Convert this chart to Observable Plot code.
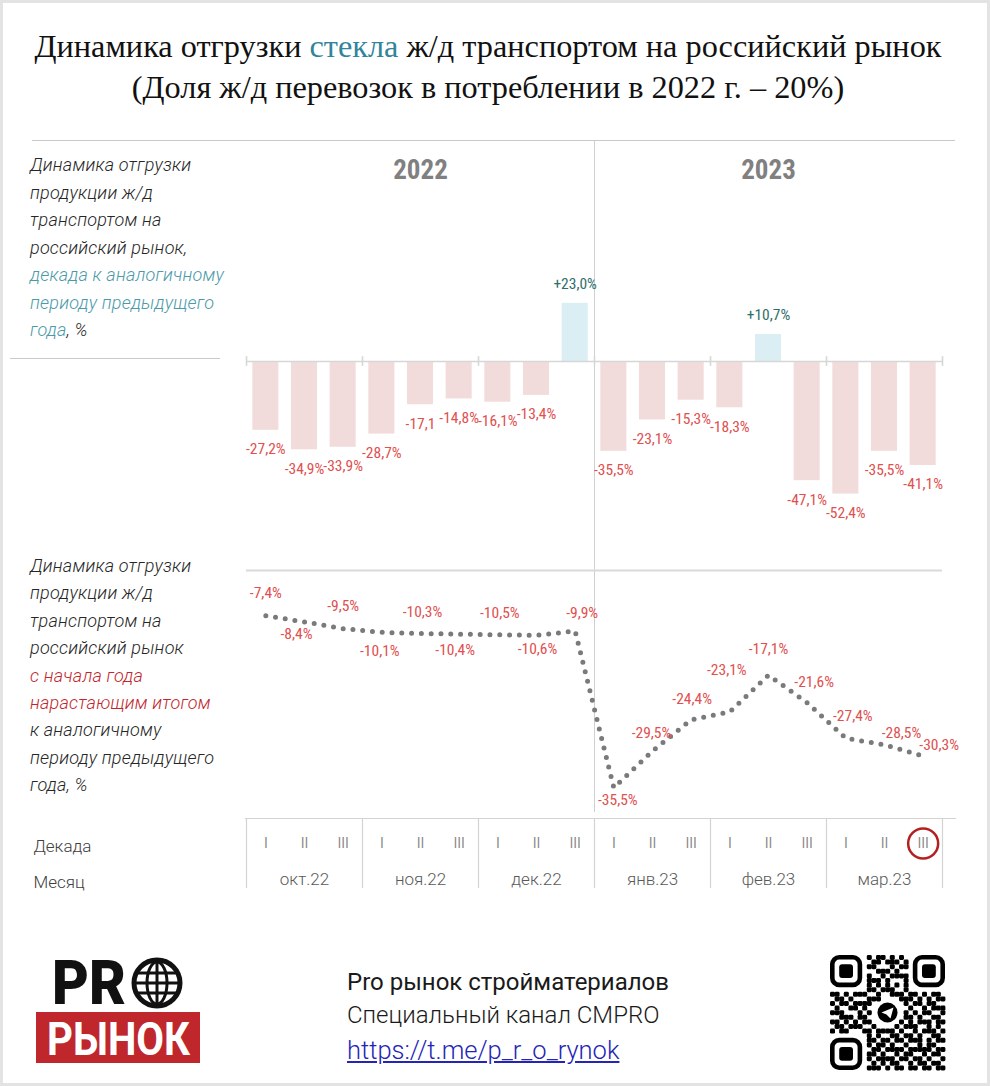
<!DOCTYPE html>
<html><head><meta charset="utf-8">
<script src="https://cdn.jsdelivr.net/npm/d3@7"></script>
<script src="https://cdn.jsdelivr.net/npm/@observablehq/plot@0.6"></script>
<style>
body{margin:0;background:#fff;}
#page{position:relative;width:990px;height:1086px;background:#fff;overflow:hidden;font-family:Roboto,"Noto Sans",sans-serif;}
#frame{position:absolute;left:0;top:0;right:0;bottom:0;border:3px solid #e3e3e3;pointer-events:none;}
.abs{position:absolute;}
.hl{position:absolute;height:1px;background:#c9c9c9;}
.title{position:absolute;left:0;width:976px;top:26px;text-align:center;font-family:"Liberation Serif","Times New Roman",serif;font-size:32.3px;line-height:41px;color:#111;}
.side{position:absolute;left:30px;font-style:italic;font-weight:300;font-size:18px;line-height:27.5px;color:#262626;letter-spacing:0.2px;}
.teal{color:#4b9aa8;}
.dred{color:#c0272d;}
.foot{position:absolute;left:347px;font-size:24px;line-height:28px;color:#1a1a1a;font-weight:400;}
</style></head><body>
<div id="page">
  <div class="title">Динамика отгрузки <span style="color:#31849b">стекла</span> ж/д транспортом на российский рынок<br>(Доля ж/д перевозок в потреблении в 2022 г. – 20%)</div>
  <div class="hl" style="left:32px;top:140px;width:923px;"></div>
  <div class="side" style="top:151px;">Динамика отгрузки<br>продукции ж/д<br>транспортом на<br>российский рынок,<br><span class="teal">декада к аналогичному<br>периоду предыдущего<br>года</span>, %</div>
  <div class="hl" style="left:10px;top:358px;width:210px;"></div>
  <div class="side" style="top:552px;line-height:27.4px;">Динамика отгрузки<br>продукции ж/д<br>транспортом на<br>российский рынок<br><span class="dred">с начала года<br>нарастающим итогом</span><br>к аналогичному<br>периоду предыдущего<br>года, %</div>
  <div id="bars" class="abs" style="left:0;top:141px;"></div>
  <div id="line" class="abs" style="left:0;top:541px;"></div>
  <div id="table" class="abs" style="left:0;top:812px;"></div>
  <div class="hl" style="left:245px;top:818px;width:711px;background:#d3d3d3;"></div>
  <div class="foot" style="top:968px;">Pro рынок стройматериалов</div>
  <div class="foot" style="top:1001px;font-weight:300;">Специальный канал CMPRO</div>
  <div class="foot" style="top:1036px;font-size:25.5px;line-height:29px;font-weight:300;color:#2424b8;text-decoration:underline;">https://t.me/p_r_o_rynok</div>
  <svg id="deco" class="abs" style="left:0;top:0;" width="990" height="1086"></svg>
  <div id="frame"></div>
</div>
<script>
// ---- data ----
const months = ["окт.22","ноя.22","дек.22","янв.23","фев.23","мар.23"];
const decadeNames = ["I","II","III"];
const years = ["2022","2023"];
const barValues = [-27.2,-34.9,-33.9,-28.7,-17.1,-14.8,-16.1,-13.4,23.0,-35.5,-23.1,-15.3,-18.3,10.7,-47.1,-52.4,-35.5,-41.1];
const barLabelTexts = ["-27,2%","-34,9%","-33,9%","-28,7%","-17,1","-14,8%","-16,1%","-13,4%","+23,0%","-35,5%","-23,1%","-15,3%","-18,3%","+10,7%","-47,1%","-52,4%","-35,5%","-41,1%"];
const lineValues = [-7.4,-8.4,-9.5,-10.1,-10.3,-10.4,-10.5,-10.6,-9.9,-35.5,-29.5,-24.4,-23.1,-17.1,-21.6,-27.4,-28.5,-30.3];

// ---- layout config (label offsets in px) ----
const lineLabelOffsets = [[0,-23],[-8,12],[0,-23],[-2,19],[2,-22],[-4,16],[2,-22],[1,14],[7,-18],[4,12],[-1,-18],[1,-21],[-3,-42],[0,-26],[7,-21],[7,-22],[17,-12],[16,-11]];

const labelFont = "'Roboto Condensed','Liberation Sans Narrow','Arial Narrow',Roboto,sans-serif";
const nDec = barValues.length;
const boundaries = d3.range(0, nDec + 1, 3);
const xScale = {domain: [0, nDec], range: [246, 942], axis: null};
const fmt = v => (v > 0 ? "+" : "") + v.toFixed(1).replace(".", ",") + "%";

const barData = barValues.map((v, i) => ({i, v, label: barLabelTexts[i]}));
const lineData = lineValues.map((v, i) => ({i, v, label: fmt(v)}));
const decData = barValues.map((v, i) => ({i, name: decadeNames[i % 3]}));

// ---- bars ----
const kb = 2.53, zb = 220;
const bars = Plot.plot({
  width: 990, height: 400, margin: 0,
  x: xScale,
  y: {domain: [-60, 30], range: [zb + 60 * kb, zb - 30 * kb], axis: null},
  style: {background: "transparent", overflow: "visible"},
  marks: [
    Plot.ruleX([nDec / 2], {stroke: "#d0d0d0", strokeWidth: 1}),
    Plot.text(years, {x: (d, i) => (i + 0.5) * nDec / 2, frameAnchor: "top", lineAnchor: "middle", dy: 29, text: d => d,
      fontSize: 27, fontWeight: 700, fill: "#808080", fontFamily: labelFont}),
    Plot.rect(barData, {x1: "i", x2: d => d.i + 1, y1: 0, y2: "v", insetLeft: 6.3, insetRight: 6.3,
      fill: d => d.v < 0 ? "#f2dcdb" : "#daeef3"}),
    Plot.ruleY([0], {x1: 0, x2: nDec, stroke: "#d6d6d6", strokeWidth: 1.6}),
    Plot.ruleX(boundaries, {y1: -1.9, y2: 1.9, stroke: "#d6d6d6", strokeWidth: 1.6}),
    Plot.text(barData.filter(d => d.v < 0), {x: d => d.i + 0.5, y: "v", text: "label", dy: 19,
      fill: "#e0504f", fontSize: 15.5, fontFamily: labelFont}),
    Plot.text(barData.filter(d => d.v >= 0), {x: d => d.i + 0.5, y: "v", text: "label", dy: -19,
      fill: "#2f6f68", fontSize: 15.5, fontFamily: labelFont})
  ]
});
document.getElementById("bars").appendChild(bars);

// ---- cumulative line ----
const kl = 6.12, zl = 29;
const line = Plot.plot({
  width: 990, height: 271, margin: 0,
  x: xScale,
  y: {domain: [-40, 0], range: [zl + 40 * kl, zl], axis: null},
  style: {background: "transparent", overflow: "visible"},
  marks: [
    Plot.ruleX([nDec / 2], {stroke: "#d0d0d0", strokeWidth: 1}),
    Plot.ruleY([0], {x1: 0, x2: nDec, stroke: "#d9d9d9", strokeWidth: 2}),
    Plot.line(lineData, {x: d => d.i + 0.5, y: "v", stroke: "#7a7a7a", strokeWidth: 5,
      strokeDasharray: "0 9.8", strokeLinecap: "round", strokeLinejoin: "round"}),
    ...lineData.map((d, k) => Plot.text([d], {x: d => d.i + 0.5, y: "v", text: "label",
      dx: lineLabelOffsets[k][0], dy: lineLabelOffsets[k][1],
      fill: "#e0504f", fontSize: 15.5, fontFamily: labelFont}))
  ]
});
document.getElementById("line").appendChild(line);

// ---- decade / month table ----
const table = Plot.plot({
  width: 990, height: 90, marginTop: 6, marginBottom: 14, marginLeft: 33, marginRight: 0,
  x: xScale,
  y: {type: "point", domain: ["Декада", "Месяц"], range: [31, 67], padding: 0},
  style: {background: "transparent", overflow: "visible"},
  marks: [
    Plot.axisY({anchor: "left", tickSize: 0, tickPadding: 0, textAnchor: "start", dy: 3,
      fontSize: 17, fontWeight: 300, fill: "#404040", label: null, fontFamily: "Roboto,sans-serif"}),
    Plot.ruleX(boundaries, {stroke: "#d3d3d3", strokeWidth: 1.2}),
    Plot.text(decData, {x: d => d.i + 0.5, y: () => "Декада", text: "name",
      fontSize: 14, fontWeight: 400, fill: "#8a8a8a", fillOpacity: 0.99, fontFamily: "Roboto,sans-serif"}),
    Plot.text(months, {x: (d, i) => i * 3 + 1.5, y: () => "Месяц", text: d => d,
      fontSize: 17, fontWeight: 300, fill: "#595959", fontFamily: "Roboto,sans-serif"}),
    Plot.dot(decData.slice(-1), {x: d => d.i + 0.5, y: () => "Декада", r: 15,
      stroke: "#b3201f", strokeWidth: 2.5, fill: "none"})
  ]
});
document.getElementById("table").appendChild(table);

// ---- decorations: logo and QR ----
const svg = d3.select("#deco");
svg.append("text").attr("x", 52).attr("y", 1004).attr("font-family", "Roboto,sans-serif")
  .attr("font-weight", 900).attr("font-size", 62).attr("textLength", 74).attr("lengthAdjust", "spacingAndGlyphs")
  .attr("fill", "#111").text("PR");
const g = svg.append("g").attr("transform", "translate(157,983)").attr("fill", "none").attr("stroke", "#111");
g.append("circle").attr("r", 23).attr("stroke-width", 5);
g.append("ellipse").attr("rx", 10).attr("ry", 21).attr("stroke-width", 3);
g.append("line").attr("x1", 0).attr("x2", 0).attr("y1", -21).attr("y2", 21).attr("stroke-width", 3);
[-10, 0, 10].forEach(y => g.append("line").attr("x1", -21).attr("x2", 21).attr("y1", y).attr("y2", y).attr("stroke-width", 3));
svg.append("rect").attr("x", 36).attr("y", 1012).attr("width", 164).attr("height", 51).attr("fill", "#c0272d");
svg.append("text").attr("x", 47).attr("y", 1055).attr("font-family", "Roboto,sans-serif")
  .attr("font-weight", 700).attr("font-size", 46).attr("textLength", 143).attr("lengthAdjust", "spacingAndGlyphs")
  .attr("fill", "#fff").text("РЫНОК");

const qrRows = [
"1111111010110101001111111","1000001001101110101000001","1011101011000101101011101",
"1011101000111010001011101","1011101010010111101011101","1000001011101000101000001",
"1111111010101010101111111","0000000011011100100000000","1101011100100111011010110",
"0110100011101001110101011","1011011110010110101101100","0100110101101011010010111",
"1110001010110101101011001","0011101101011010110100110","1101010110101101010111011",
"0110111001010010111001010","1011000110111101001011101","0000000010100110110100110",
"1111111011011011011101011","1000001010110100100101100","1011101001101111011111011",
"1011101011010010110010110","1011101010111101101101001","1000001001010110010110110",
"1111111011101011011011011"];
const qx = 830, qy = 955, m = 4.6;
const qr = svg.append("g");
const inFinder = (r, c) => (r < 7 && c < 7) || (r < 7 && c > 17) || (r > 17 && c < 7);
qrRows.forEach((row, r) => row.split("").forEach((b, c) => {
  const dc = Math.hypot(r - 12, c - 12);
  if (b === "1" && !inFinder(r, c) && dc > 3.2)
    qr.append("rect").attr("x", qx + c * m).attr("y", qy + r * m).attr("width", m + 0.4).attr("height", m + 0.4)
      .attr("rx", 1.4).attr("fill", "#000");
}));
[[0, 0], [0, 18], [18, 0]].forEach(([r, c]) => {
  const x = qx + c * m, y = qy + r * m;
  qr.append("rect").attr("x", x + m / 2).attr("y", y + m / 2).attr("width", 6 * m).attr("height", 6 * m)
    .attr("rx", 7).attr("fill", "none").attr("stroke", "#000").attr("stroke-width", m);
  qr.append("rect").attr("x", x + 2 * m).attr("y", y + 2 * m).attr("width", 3 * m).attr("height", 3 * m)
    .attr("rx", 3).attr("fill", "#000");
});
const cx = qx + 12.5 * m, cy = qy + 12.5 * m;
qr.append("circle").attr("cx", cx).attr("cy", cy).attr("r", 10).attr("fill", "#000");
qr.append("path").attr("d", `M${cx - 6},${cy} L${cx + 6},${cy - 5} L${cx + 3},${cy + 6} L${cx - 1},${cy + 2} Z`).attr("fill", "#fff");
</script>
</body></html>
